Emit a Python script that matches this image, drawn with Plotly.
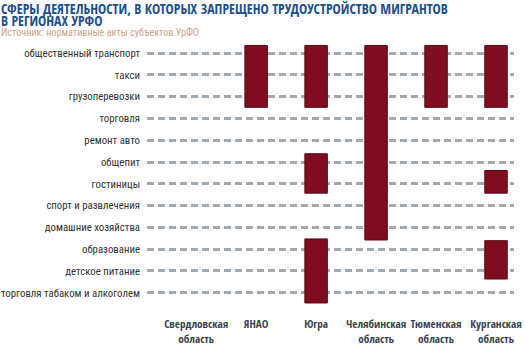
import plotly.graph_objects as go

activities = [
    "общественный транспорт", "такси", "грузоперевозки", "торговля",
    "ремонт авто", "общепит", "гостиницы", "спорт и развлечения",
    "домашние хозяйства", "образование", "детское питание",
    "торговля табаком и алкоголем",
]
regions = ["Свердловская<br>область", "ЯНАО", "Югра", "Челябинская<br>область",
           "Тюменская<br>область", "Курганская<br>область"]

# bars: region index, top (row units), bottom (row units)
bar_region = [1, 2, 2, 2, 3, 4, 5, 5, 5]
bar_top =    [-0.35, -0.35, 4.62, 8.53, -0.35, -0.35, -0.35, 5.39, 8.61]
bar_bottom = [2.49, 2.49, 6.43, 11.47, 8.58, 2.49, 2.49, 6.43, 10.37]

title_lines = ["СФЕРЫ ДЕЯТЕЛЬНОСТИ, В КОТОРЫХ ЗАПРЕЩЕНО ТРУДОУСТРОЙСТВО МИГРАНТОВ",
               "В РЕГИОНАХ УРФО"]
subtitle = "Источник: нормативные акты субъектов УрФО"

COND = "Roboto Condensed, DejaVu Sans Condensed, sans-serif"
BOLDC = "Open Sans Condensed, Roboto Condensed, sans-serif"

W, H = 526, 350
ML, MR, MT, MB = 147, 12, 40, 42
PW, PH = W - ML - MR, H - MT - MB

fig = go.Figure()
fig.add_trace(go.Bar(
    x=bar_region,
    y=[b - t for t, b in zip(bar_top, bar_bottom)],
    base=bar_top,
    width=0.375,
    marker=dict(color="#7e0d20", line=dict(color="#5c0814", width=1)),
    hoverinfo="skip",
))


def px_to_paper_y(py):
    return 1 + (MT - py) / PH


anns = []
for i, line in enumerate(title_lines):
    anns.append(dict(text=f"<b>{line}</b>", xref="paper", yref="paper",
                     x=-ML / PW, y=px_to_paper_y(8 + 12.5 * i),
                     xanchor="left", yanchor="middle", align="left", showarrow=False,
                     borderpad=0,
                     font=dict(family=BOLDC, size=13.8, color="#1c5088")))
anns.append(dict(text=subtitle, xref="paper", yref="paper",
                 x=-ML / PW, y=px_to_paper_y(32.5),
                 xanchor="left", yanchor="middle", align="left", showarrow=False,
                 borderpad=0,
                 font=dict(family=COND, size=10.2, color="#cfa488")))

fig.update_layout(
    width=W, height=H,
    margin=dict(l=ML, r=MR, t=MT, b=MB),
    paper_bgcolor="white", plot_bgcolor="white",
    showlegend=False,
    xaxis=dict(
        range=[-0.82, 5.3], automargin=False, tickangle=0,
        tickmode="array", tickvals=list(range(len(regions))), ticktext=regions,
        tickfont=dict(family=BOLDC, size=11.2, color="#3a434d", weight="bold"),
        showgrid=False, zeroline=False, showline=False, ticks="",
        ticklabelstandoff=8,
    ),
    yaxis=dict(
        range=[11.7, -0.6], automargin=False,
        tickmode="array", tickvals=list(range(len(activities))), ticktext=activities,
        tickfont=dict(family=COND, size=10.8, color="#333333"),
        showgrid=True, gridcolor="#a0a8b0", gridwidth=2.5, griddash="7px,4px",
        zeroline=False, showline=False, ticks="", ticklabelstandoff=6,
    ),
    annotations=anns,
)

fig.write_html("out.html")
